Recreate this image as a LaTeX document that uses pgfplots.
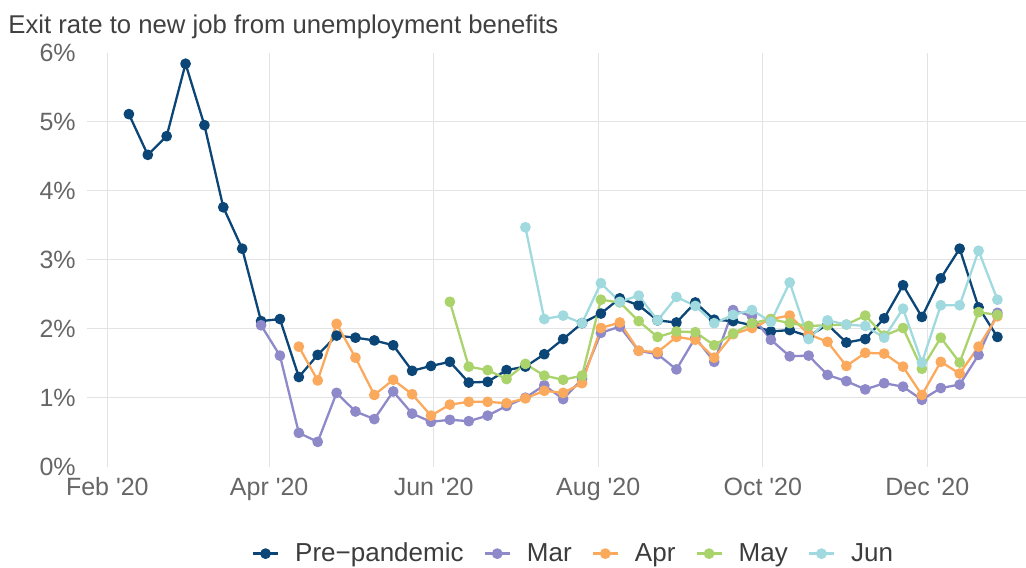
\documentclass[border=0pt]{standalone}
\usepackage{fontspec}
\setmainfont{Liberation Sans}
\usepackage{pgfplots}
\pgfplotsset{compat=1.18}
\usepackage{pgfplotstable}

\definecolor{cpre}{HTML}{0B4677}
\definecolor{cmar}{HTML}{8E89C9}
\definecolor{capr}{HTML}{FBA95C}
\definecolor{cmay}{HTML}{ABD36C}
\definecolor{cjun}{HTML}{A0DADF}
\definecolor{gridc}{HTML}{E3E3E3}
\definecolor{tickc}{HTML}{666666}
\definecolor{titlec}{HTML}{404040}
\definecolor{legc}{HTML}{3C3C3C}

% x = day of year 2020 (Jan 1 = 0), weekly observations
\pgfplotstableread{
d   pre  mar  apr  may  jun
39  5.11 nan  nan  nan  nan
46  4.52 nan  nan  nan  nan
53  4.79 nan  nan  nan  nan
60  5.84 nan  nan  nan  nan
67  4.95 nan  nan  nan  nan
74  3.76 nan  nan  nan  nan
81  3.16 nan  nan  nan  nan
88  2.11 2.05 nan  nan  nan
95  2.14 1.61 nan  nan  nan
102 1.30 0.49 1.74 nan  nan
109 1.62 0.36 1.25 nan  nan
116 1.90 1.07 2.07 nan  nan
123 1.87 0.80 1.58 nan  nan
130 1.83 0.69 1.04 nan  nan
137 1.76 1.09 1.26 nan  nan
144 1.39 0.77 1.05 nan  nan
151 1.46 0.65 0.74 nan  nan
158 1.52 0.68 0.90 2.39 nan
165 1.22 0.66 0.94 1.45 nan
172 1.23 0.74 0.94 1.40 nan
179 1.40 0.88 0.92 1.27 nan
186 1.45 1.00 0.99 1.49 3.47
193 1.63 1.18 1.10 1.32 2.14
200 1.85 0.98 1.07 1.26 2.19
207 2.08 1.27 1.21 1.32 2.08
214 2.22 1.94 2.01 2.42 2.66
221 2.44 2.03 2.09 2.38 2.39
228 2.34 1.68 1.68 2.11 2.48
235 2.12 1.63 1.66 1.88 2.12
242 2.09 1.41 1.88 1.96 2.46
249 2.38 1.87 1.84 1.95 2.33
256 2.13 1.52 1.58 1.76 2.08
263 2.11 2.27 1.92 1.93 2.20
270 2.05 2.18 2.01 2.08 2.27
277 1.96 1.84 2.14 2.14 2.10
284 1.98 1.60 2.19 2.08 2.67
291 1.89 1.61 1.92 2.04 1.85
298 2.06 1.33 1.81 2.05 2.12
305 1.80 1.24 1.46 2.06 2.06
312 1.85 1.12 1.65 2.19 2.04
319 2.15 1.21 1.64 1.90 1.87
326 2.63 1.16 1.45 2.01 2.29
333 2.17 0.97 1.04 1.42 1.51
340 2.73 1.14 1.52 1.87 2.34
347 3.16 1.19 1.35 1.51 2.34
354 2.31 1.62 1.74 2.24 3.13
361 1.88 2.23 2.18 2.20 2.42
}\exitrates

\begin{document}
\begin{tikzpicture}
\useasboundingbox (0,0) rectangle (513pt,283.5pt);
\node[anchor=base west, inner sep=0pt, text=titlec, font=\fontsize{12.85}{15}\selectfont]
  at (4pt,266.5pt) {Exit rate to new job from unemployment benefits};
\begin{axis}[
    at={(43.35pt,50.15pt)}, anchor=south west,
    scale only axis,
    width=469.65pt, height=207pt,
    xmin=23.36, xmax=371.6,
    ymin=0, ymax=6,
    axis line style={draw=none},
    major tick length=0pt,
    xtick={31,91,152,213,274,335},
    xticklabels={Feb \textquotesingle20, Apr \textquotesingle20, Jun \textquotesingle20,
                 Aug \textquotesingle20, Oct \textquotesingle20, Dec \textquotesingle20},
    ytick={0,1,2,3,4,5,6},
    yticklabel={\pgfmathprintnumber{\tick}\%},
    xmajorgrids,
    extra y ticks={1,2,3,4,5},
    extra y tick labels={},
    extra y tick style={ymajorgrids},
    grid style={gridc, line width=0.6pt},
    tick label style={font=\fontsize{12.5}{14}\selectfont, text=tickc},
    yticklabel style={xshift=-2pt},
    xticklabel style={yshift=-2pt},
    /pgf/number format/assume math mode=true,
    every axis plot/.append style={line width=1.15pt, line join=round, mark=*, mark size=2.1pt},
    legend columns=-1,
    legend style={at={(0.5193,-0.21)}, anchor=center, draw=none, fill=none,
        font=\fontsize{13}{15}\selectfont, text=legc,
        /tikz/every odd column/.append style={column sep=6pt},
        /tikz/every even column/.append style={column sep=8pt}},
    legend image code/.code={\draw[mark repeat=2,mark phase=2]
        plot coordinates {(0pt,0pt) (6.25pt,0pt) (12.5pt,0pt)};},
]
\addplot[color=cpre] table[x=d, y=pre] {\exitrates};
\addplot[color=cmar] table[x=d, y=mar] {\exitrates};
\addplot[color=capr] table[x=d, y=apr] {\exitrates};
\addplot[color=cmay] table[x=d, y=may] {\exitrates};
\addplot[color=cjun] table[x=d, y=jun] {\exitrates};
\legend{Pre−pandemic, Mar, Apr, May, Jun}
\end{axis}
\end{tikzpicture}
\end{document}
